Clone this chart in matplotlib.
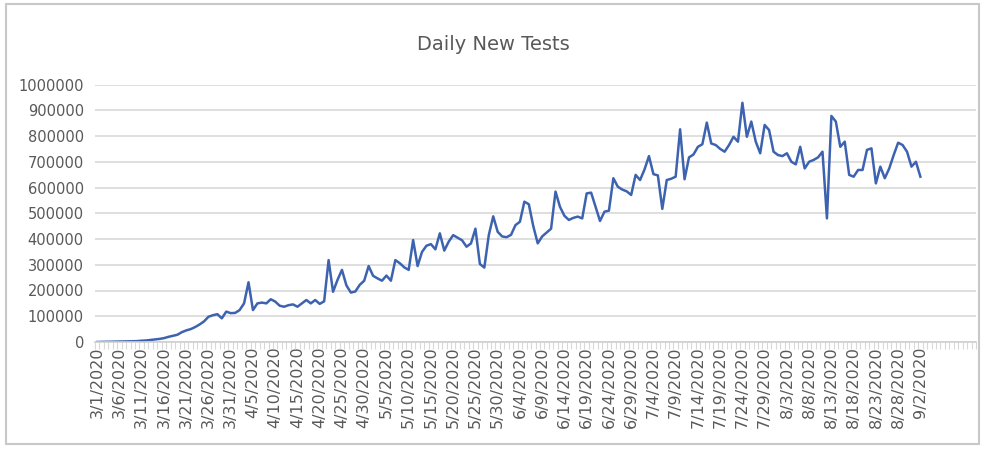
import numpy as np
import pandas as pd
import matplotlib
matplotlib.use('Agg')
import matplotlib.pyplot as plt
from matplotlib.patches import Rectangle

# daily new tests, 3/1/2020 .. 9/2/2020
tests = [
    0, 500, 700, 1000, 1500, 2000, 2000, 2500, 3000, 3500,
    5000, 6000, 8000, 10000, 12000, 15000, 20000, 24000, 28000, 38000,
    45000, 50000, 58000, 68000, 80000, 98000, 104000, 108000, 92000, 118000,
    112000, 113000, 124000, 150000, 232000, 124000, 150000, 153000, 150000, 166000,
    157000, 141000, 137000, 143000, 146000, 137000, 150000, 163000, 150000, 163000,
    148000, 158000, 318000, 195000, 241000, 280000, 220000, 192000, 196000, 222000,
    238000, 295000, 257000, 247000, 238000, 258000, 238000, 318000, 306000, 290000,
    280000, 396000, 295000, 350000, 374000, 380000, 360000, 422000, 355000, 390000,
    415000, 405000, 395000, 370000, 383000, 440000, 303000, 289000, 415000, 488000,
    428000, 410000, 407000, 416000, 454000, 467000, 545000, 535000, 450000, 383000,
    410000, 425000, 440000, 584000, 525000, 490000, 474000, 482000, 487000, 480000,
    577000, 580000, 525000, 470000, 506000, 510000, 636000, 603000, 592000, 585000,
    571000, 649000, 629000, 670000, 722000, 652000, 647000, 517000, 629000, 634000,
    642000, 826000, 632000, 717000, 728000, 758000, 768000, 852000, 771000, 765000,
    750000, 739000, 765000, 797000, 778000, 929000, 797000, 856000, 778000, 733000,
    843000, 823000, 739000, 726000, 722000, 733000, 700000, 690000, 758000, 674000,
    700000, 707000, 717000, 739000, 480000, 878000, 856000, 758000, 778000, 649000,
    642000, 668000, 668000, 746000, 752000, 616000, 681000, 636000, 674000, 726000,
    774000, 765000, 739000, 681000, 700000, 642000,
]
n_categories = 198  # sheet range runs past the last data row
dates = pd.date_range('2020-03-01', periods=n_categories, freq='D')
date_labels = [f'{d.month}/{d.day}/{d.year}' for d in dates]
label_every = 5
last_label = 185  # 9/2/2020
y_ticks = [0, 100000, 200000, 300000, 400000, 500000, 600000, 700000, 800000, 900000, 1000000]

plt.rcParams['font.family'] = ['DejaVu Sans']
fig = plt.figure(figsize=(9.87, 4.49), dpi=100)
ax = fig.add_axes([95/987, 1-342/449, (976-95)/987, (342-84.5)/449])

ax.plot(range(len(tests)), tests, color='#3d63b0', lw=1.8, solid_joinstyle='round')

ax.set_xlim(-0.5, n_categories - 0.5)
ax.set_ylim(0, 1000000)
ax.set_yticks(y_ticks)
ax.set_yticklabels([str(v) for v in y_ticks])
ax.grid(axis='y', color='#dcdcdc', lw=1.3)
ax.set_axisbelow(True)

pos = list(range(0, last_label + 1, label_every))
ax.set_xticks(pos)
ax.set_xticklabels([date_labels[p] for p in pos], rotation=90)
ax.set_xticks(np.arange(-0.5, n_categories, 1), minor=True)
ax.tick_params(axis='x', which='both', length=5, color='#d8d8d8', width=0.8,
               labelcolor='#595959', labelsize=11.5, pad=3)
ax.tick_params(axis='x', which='major', length=0)
ax.tick_params(axis='y', length=0, labelcolor='#595959', labelsize=10.5, pad=8)

for s in ['left', 'right', 'top']:
    ax.spines[s].set_visible(False)
ax.spines['bottom'].set_color('#d0d0d0')
ax.spines['bottom'].set_linewidth(1.2)

fig.text(0.5, 1-45/449, 'Daily New Tests', ha='center', va='center',
         fontsize=14, color='#595959')

# chart area frame
fig.patches.append(Rectangle((6/987, 5/449), 973/987, 440/449, transform=fig.transFigure,
                             fill=False, edgecolor='#c8c8c8', lw=1.5))

fig.savefig('out.png', dpi=100)
